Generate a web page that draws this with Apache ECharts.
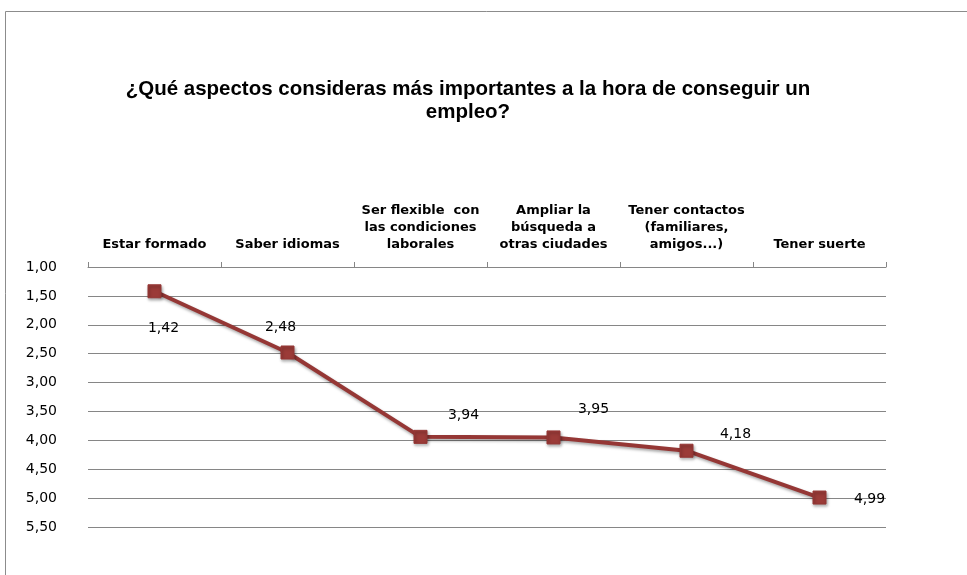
<!DOCTYPE html>
<html>
<head>
<meta charset="utf-8">
<script src="https://cdn.jsdelivr.net/npm/echarts@6/dist/echarts.min.js"></script>
<style>
html,body{margin:0;padding:0;background:#fff;}
#main{width:967px;height:575px;}
</style>
</head>
<body>
<div id="main"></div>
<script>
var categorias = ['Estar formado', 'Saber idiomas', 'Ser flexible  con\nlas condiciones\nlaborales', 'Ampliar la\nbúsqueda a\notras ciudades', 'Tener contactos\n(familiares,\namigos...)', 'Tener suerte'];
var valores = [1.42, 2.48, 3.94, 3.95, 4.18, 4.99];
// desplazamiento de cada etiqueta respecto al punto
var etiquetasOffset = [[9, 37], [-7, -25], [43, -22], [40, -28], [49, -16], [50, 2]];

var myChart = echarts.init(document.getElementById('main'));

var datos = valores.map(function (v, i) {
    return {
        value: v,
        label: {offset: etiquetasOffset[i]}
    };
});

var option = {
    backgroundColor: '#fff',
    animation: false,
    title: {
        text: '¿Qué aspectos consideras más importantes a la hora de conseguir un\nempleo?',
        left: 463,
        top: 73,
        textAlign: 'center',
        textStyle: {
            fontFamily: 'Liberation Sans',
            fontWeight: 'bold',
            fontSize: 20.5,
            lineHeight: 23,
            color: '#000'
        }
    },
    graphic: [{
        type: 'rect',
        shape: {x: 5.5, y: 11.5, width: 980, height: 600},
        style: {fill: 'none', stroke: '#8c8c8c', lineWidth: 1},
        silent: true
    }],
    grid: {
        left: 88,
        right: 81,
        top: 267,
        bottom: 48
    },
    xAxis: {
        type: 'category',
        position: 'top',
        data: categorias,
        boundaryGap: true,
        axisLine: {lineStyle: {color: '#868686', width: 1}},
        axisTick: {show: true, length: 5, lineStyle: {color: '#868686'}},
        axisLabel: {
            interval: 0,
            margin: 14,
            fontFamily: 'DejaVu Sans',
            fontWeight: 'bold',
            fontSize: 13,
            lineHeight: 17,
            color: '#000'
        }
    },
    yAxis: {
        type: 'value',
        inverse: true,
        min: 1,
        max: 5.5,
        interval: 0.5,
        axisLine: {show: false},
        axisTick: {show: false},
        splitLine: {lineStyle: {color: '#868686', width: 1}},
        axisLabel: {
            margin: 31,
            fontFamily: 'DejaVu Sans',
            fontSize: 14,
            color: '#000',
            formatter: function (v) { return v.toFixed(2).replace('.', ','); }
        }
    },
    series: [{
        type: 'line',
        data: datos,
        symbol: 'rect',
        symbolSize: 13,
        lineStyle: {
            color: '#953735',
            width: 4,
            shadowColor: 'rgba(0,0,0,0.35)',
            shadowBlur: 3,
            shadowOffsetX: 1,
            shadowOffsetY: 2
        },
        itemStyle: {
            color: '#9b3b38',
            borderColor: '#953735',
            borderWidth: 1,
            shadowColor: 'rgba(0,0,0,0.35)',
            shadowBlur: 3,
            shadowOffsetX: 1,
            shadowOffsetY: 2
        },
        label: {
            show: true,
            position: 'inside',
            fontFamily: 'DejaVu Sans',
            fontSize: 14,
            color: '#000',
            formatter: function (p) { return p.value.toFixed(2).replace('.', ','); }
        }
    }]
};
myChart.setOption(option);
</script>
</body>
</html>
